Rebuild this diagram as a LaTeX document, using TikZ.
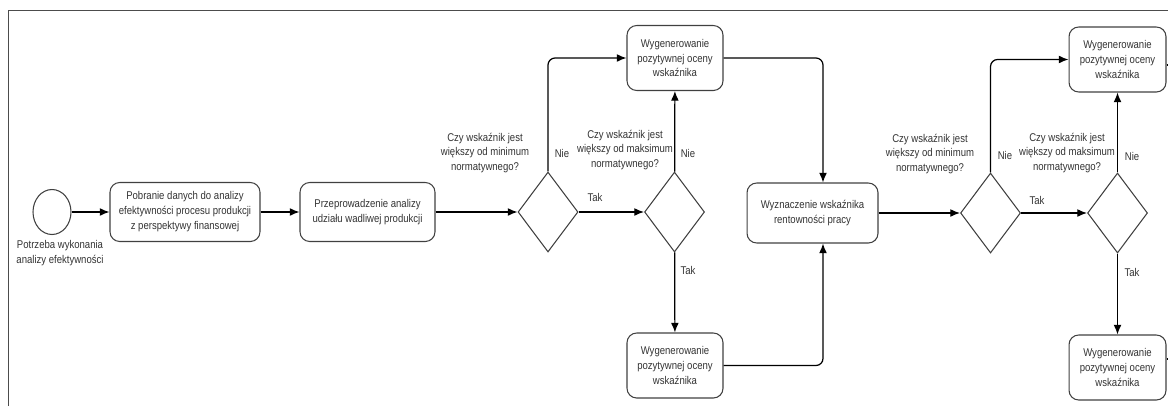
\documentclass[tikz,border=0pt]{standalone}
\usepackage{fontspec}
\setmainfont{Liberation Sans}[FakeStretch=0.85]
\usetikzlibrary{shapes.geometric,arrows.meta}

\begin{document}
\begin{tikzpicture}[x=0.02cm,y=-0.02cm,
    >={Latex[length=5.5pt,width=4.5pt]},
    line width=0.7pt,
    every node/.style={font=\fontsize{6.4}{8.5}\selectfont, text=black!80},
    krok/.style={draw=black!75, line width=0.6pt, rounded corners=5.5pt, align=center, inner sep=1pt},
    decyzja/.style={draw=black!75, line width=0.6pt, diamond, inner sep=0pt, minimum width=1.2cm, minimum height=1.6cm},
    opis/.style={align=center}]
    \useasboundingbox (0,0) rectangle (1168,406);
    \draw[black!70, line width=0.5pt] (8,406) -- (8,10) -- (1168,10);

    % zdarzenie poczatkowe
    \node[draw=black!75, line width=0.6pt, ellipse, minimum width=0.76cm, minimum height=0.9cm] (start) at (52,212) {};
    \node[opis] (startopis) at (60,253) {Potrzeba wykonania\\analizy efektywności};

    % zadania
    \node[krok, minimum width=3cm, minimum height=1.18cm] (pobranie) at (185,212) {Pobranie danych do analizy\\efektywności procesu produkcji\\z perspektywy finansowej};
    \node[krok, minimum width=2.7cm, minimum height=1.18cm] (udzial) at (367.5,212) {Przeprowadzenie analizy\\udziału wadliwej produkcji};
    \node[decyzja] (min1) at (548,212) {};
    \node[decyzja] (max1) at (674.5,212) {};
    \node[krok, minimum width=1.92cm, minimum height=1.3cm] (ocena1) at (675,58) {Wygenerowanie\\pozytywnej oceny\\wskaźnika};
    \node[krok, minimum width=1.92cm, minimum height=1.3cm] (ocena2) at (675,365.5) {Wygenerowanie\\pozytywnej oceny\\wskaźnika};
    \node[krok, minimum width=2.62cm, minimum height=1.2cm] (rentownosc) at (812.5,213) {Wyznaczenie wskaźnika\\rentowności pracy};
    \node[decyzja] (min2) at (990.5,213) {};
    \node[decyzja] (max2) at (1117.5,213) {};
    \node[krok, minimum width=1.94cm, minimum height=1.3cm] (ocena3) at (1117.5,59.5) {Wygenerowanie\\pozytywnej oceny\\wskaźnika};
    \node[krok, minimum width=1.94cm, minimum height=1.3cm] (ocena4) at (1117.5,367.5) {Wygenerowanie\\pozytywnej oceny\\wskaźnika};

    % pytania
    \node[opis] (pyt1) at (485,153) {Czy wskaźnik jest\\większy od minimum\\normatywnego?};
    \node[opis] (pyt2) at (625,150) {Czy wskaźnik jest\\większy od maksimum\\normatywnego?};
    \node[opis] (pyt3) at (930,154) {Czy wskaźnik jest\\większy od minimum\\normatywnego?};
    \node[opis] (pyt4) at (1067,153) {Czy wskaźnik jest\\większy od maksimum\\normatywnego?};

    \node (nie1) at (562,153) {Nie};
    \node (tak1) at (595,197) {Tak};
    \node (nie2) at (688,153) {Nie};
    \node (tak2) at (688,270) {Tak};
    \node (nie3) at (1005,155) {Nie};
    \node (tak3) at (1037,200) {Tak};
    \node (nie4) at (1132,156) {Nie};
    \node (tak4) at (1132,272) {Tak};

    % wyjscia poza ramke
    \coordinate (koniec3) at (1168,65);
    \coordinate (koniec4) at (1168,359);

    % polaczenia
    \draw[->] (start) -- (pobranie);
    \draw[->] (pobranie) -- (udzial);
    \draw[->] (udzial) -- (min1);
    \draw[->] (min1) -- (max1);
    \draw[->, rounded corners=4pt] (min1.north) |- (ocena1.west);
    \draw[->] (max1) -- (ocena1);
    \draw[->] (max1) -- (ocena2);
    \draw[->, rounded corners=4pt] (ocena1.east) -| ([xshift=0.21cm]rentownosc.north);
    \draw[->, rounded corners=4pt] (ocena2.east) -| ([xshift=0.21cm]rentownosc.south);
    \draw[->] (rentownosc) -- (min2);
    \draw[->] (min2) -- (max2);
    \draw[->, rounded corners=4pt] (min2.north) |- (ocena3.west);
    \draw[->] (max2) -- (ocena3);
    \draw[->] (max2) -- (ocena4);
    \draw (ocena3.east |- koniec3) -- (koniec3);
    \draw (ocena4.east |- koniec4) -- (koniec4);
\end{tikzpicture}
\end{document}
